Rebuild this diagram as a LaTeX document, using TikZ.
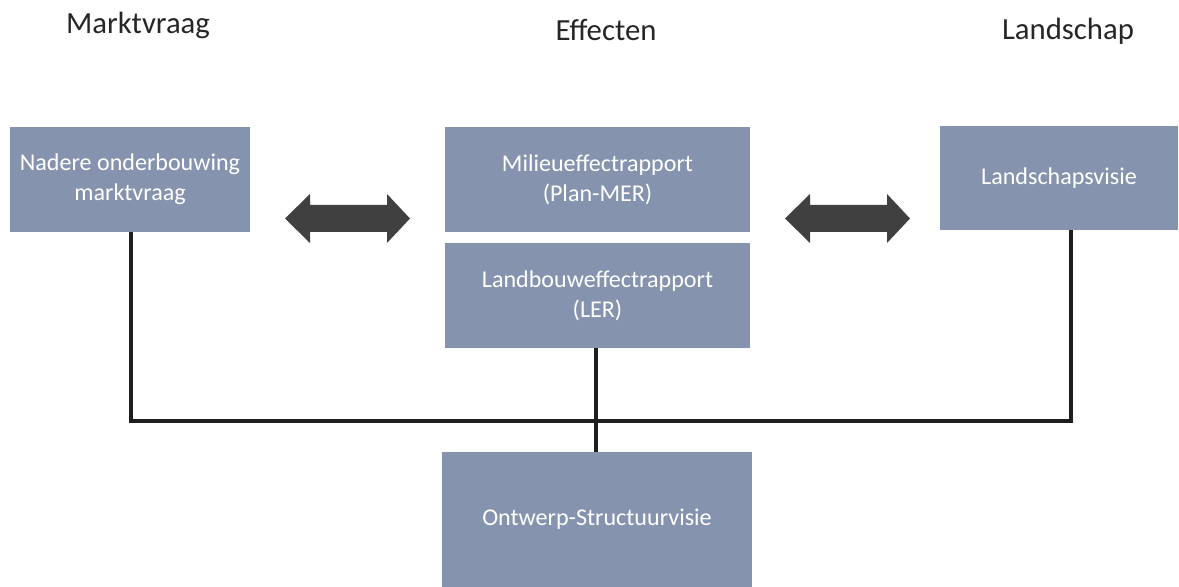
\documentclass[tikz,border=0pt]{standalone}
\usepackage{fontspec}
\setmainfont{Carlito}
\usetikzlibrary{calc}
\definecolor{boxfill}{RGB}{133,147,175}
\definecolor{arrowgray}{RGB}{64,64,64}
\definecolor{linegray}{RGB}{30,30,30}
\begin{document}
\begin{tikzpicture}[x=0.02cm,y=-0.02cm,
  box/.style={fill=boxfill, draw=none, text=white, align=center, font=\fontsize{13.7}{17}\selectfont, inner sep=0pt},
  title/.style={font=\fontsize{17.5}{20}\selectfont, text=black!85},
  conn/.style={draw=linegray, line width=2pt},
  dblarrow/.style={fill=arrowgray}]
\useasboundingbox (0,0) rectangle (1179,587);
% titles
\node[title] (t1) at (138,25) {Marktvraag};
\node[title] (t2) at (606,30) {Effecten};
\node[title] (t3) at (1068,31) {Landschap};
% boxes
\node[box, minimum width=240*0.02cm, minimum height=105*0.02cm] (a) at (130,179.5) {Nadere onderbouwing\\marktvraag};
\node[box, minimum width=305*0.02cm, minimum height=105*0.02cm] (b) at (597.5,179.5) {Milieueffectrapport\\(Plan-MER)};
\node[box, minimum width=305*0.02cm, minimum height=105*0.02cm] (c) at (597.5,295.5) {Landbouweffectrapport\\(LER)};
\node[box, minimum width=238*0.02cm, minimum height=104*0.02cm] (d) at (1059,178) {Landschapsvisie};
\node[box, minimum width=310*0.02cm, minimum height=135*0.02cm] (e) at (597,519.5) {Ontwerp-Structuurvisie};
% connectors
\coordinate (jl) at (131,421);
\coordinate (jr) at (1071,421);
\coordinate (jm) at (596,421);
\draw[conn] (a.south -| jl) -- (jl) -- (jr) -- (d.south -| jr);
\draw[conn] (c.south -| jm) -- (e.north -| jm);
% double arrows
\coordinate (al) at (285,218.5);
\coordinate (ar) at (410,218.5);
\fill[dblarrow] (al) -- ++(25,-24.5) -- ++(0,11) -- ($(ar)+(-23,-13.5)$) -- ++(0,-11) -- (ar) -- ++(-23,24.5) -- ++(0,-11) -- ($(al)+(25,13.5)$) -- ++(0,11) -- cycle;
\coordinate (bl) at (785,218.5);
\coordinate (br) at (910,218.5);
\fill[dblarrow] (bl) -- ++(25,-24.5) -- ++(0,11) -- ($(br)+(-23,-13.5)$) -- ++(0,-11) -- (br) -- ++(-23,24.5) -- ++(0,-11) -- ($(bl)+(25,13.5)$) -- ++(0,11) -- cycle;
\end{tikzpicture}
\end{document}
